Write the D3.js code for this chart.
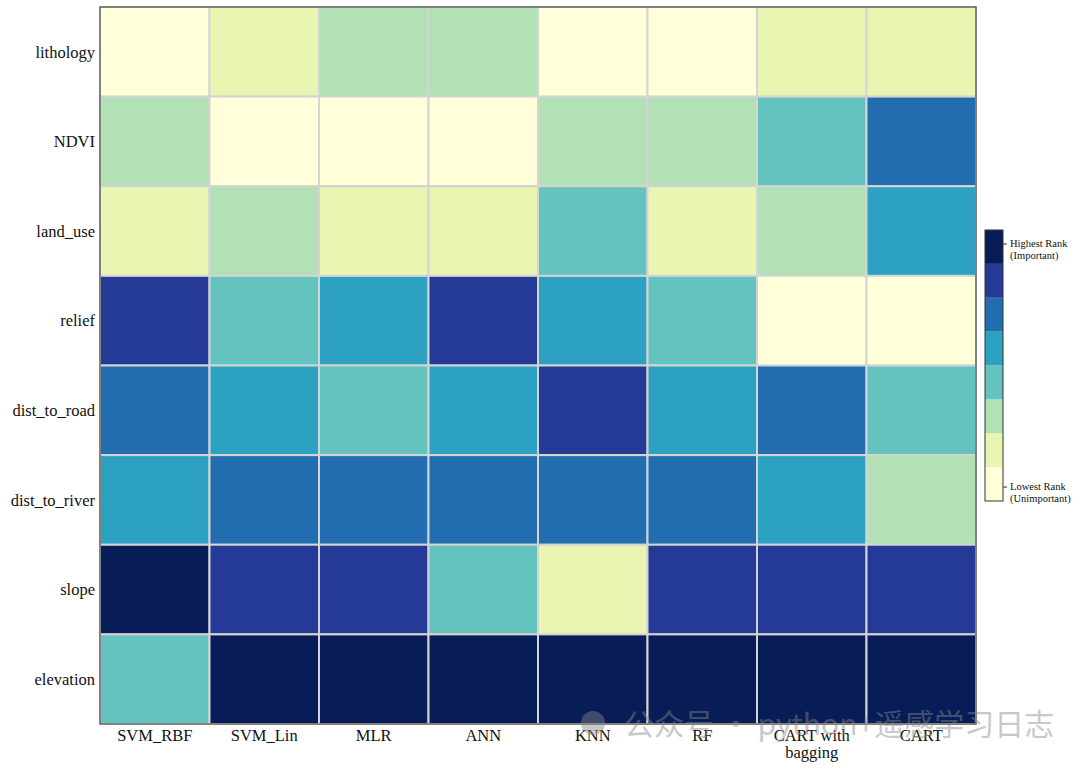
<!DOCTYPE html>
<html>
<head>
<meta charset="utf-8">
<script src="https://cdn.jsdelivr.net/npm/d3@7"></script>
<style>
    body { margin: 0; background: #fff; }
    svg { display: block; }
</style>
</head>
<body>
<div id="chart"></div>
<script>
// rows top to bottom, columns left to right
var features = ['lithology', 'NDVI', 'land_use', 'relief', 'dist_to_road', 'dist_to_river', 'slope', 'elevation'];
var models = ['SVM_RBF', 'SVM_Lin', 'MLR', 'ANN', 'KNN', 'RF', 'CART with bagging', 'CART'];

// rank per feature (8 = highest rank / important, 1 = lowest)
var lithology = [1, 2, 3, 3, 1, 1, 2, 2];
var ndvi = [3, 1, 1, 1, 3, 3, 4, 6];
var landUse = [2, 3, 2, 2, 4, 2, 3, 5];
var relief = [7, 4, 5, 7, 5, 4, 1, 1];
var distToRoad = [6, 5, 4, 5, 7, 5, 6, 4];
var distToRiver = [5, 6, 6, 6, 6, 6, 5, 3];
var slope = [8, 7, 7, 4, 2, 7, 7, 7];
var elevation = [4, 8, 8, 8, 8, 8, 8, 8];

var ranks = [1, 2, 3, 4, 5, 6, 7, 8];
var legendLabels = [['Highest Rank', '(Important)'], ['Lowest Rank', '(Unimportant)']];

var rows = [lithology, ndvi, landUse, relief, distToRoad, distToRiver, slope, elevation];

var width = 1080, height = 769;
var margin = { top: 7, right: 104, bottom: 45, left: 100 };

var svg = d3.select('#chart')
    .append('svg')
    .attr('width', width)
    .attr('height', height);

var graph = svg.append('g')
    .attr('transform', 'translate(' + margin.left + ',' + margin.top + ')');

var w = width - margin.left - margin.right;
var h = height - margin.top - margin.bottom;

var x = d3.scaleBand().domain(models).range([0, w]);
var y = d3.scaleBand().domain(features).range([0, h]);

// 8 colours sampled evenly from matplotlib-style YlGnBu
var ylgnbu = d3.schemeYlGnBu[9];
var sample = d3.scaleLinear()
    .domain(d3.range(9).map(function(i) { return 1 + i * 7 / 8; }))
    .range(ylgnbu)
    .interpolate(d3.interpolateRgb);
var color = d3.scaleOrdinal().domain(ranks).range(ranks.map(function(r) { return sample(r); }));

var cells = [];
rows.forEach(function(row, i) {
    row.forEach(function(v, j) {
        cells.push({ feature: features[i], model: models[j], value: v });
    });
});

graph.selectAll('rect.cell')
    .data(cells)
    .enter()
    .append('rect')
    .attr('class', 'cell')
    .attr('x', function(d) { return x(d.model); })
    .attr('y', function(d) { return y(d.feature); })
    .attr('width', x.bandwidth())
    .attr('height', y.bandwidth())
    .attr('fill', function(d) { return color(d.value); })
    .attr('stroke', '#d4d4d4')
    .attr('stroke-width', 2);

// frame
graph.append('rect')
    .attr('width', w)
    .attr('height', h)
    .attr('fill', 'none')
    .attr('stroke', '#4a4a4a')
    .attr('stroke-width', 1.2);

var font = '"Liberation Serif", "Times New Roman", serif';

// y labels
graph.selectAll('text.ylab')
    .data(features)
    .enter()
    .append('text')
    .attr('class', 'ylab')
    .attr('x', -5)
    .attr('y', function(d) { return y(d) + y.bandwidth() / 2; })
    .attr('dy', '0.35em')
    .attr('text-anchor', 'end')
    .style('font-family', font)
    .style('font-size', '16.5px')
    .attr('fill', '#111')
    .text(function(d) { return d; });

// x labels (wrap "CART with bagging")
var xl = graph.selectAll('text.xlab')
    .data(models)
    .enter()
    .append('text')
    .attr('class', 'xlab')
    .attr('text-anchor', 'middle')
    .style('font-family', font)
    .style('font-size', '16.5px')
    .attr('fill', '#111');

xl.each(function(d) {
    var lines = d === 'CART with bagging' ? ['CART with', 'bagging'] : [d];
    var t = d3.select(this);
    lines.forEach(function(l, k) {
        t.append('tspan')
            .attr('x', x(d) + x.bandwidth() / 2)
            .attr('y', h + 17 + k * 17)
            .text(l);
    });
});

// colour bar
var cbX = 985, cbW = 18, cbTop = 230, cbBottom = 501;
var cb = d3.scaleBand().domain(ranks.slice().reverse()).range([cbTop, cbBottom]);

svg.selectAll('rect.cb')
    .data(ranks)
    .enter()
    .append('rect')
    .attr('class', 'cb')
    .attr('x', cbX)
    .attr('y', function(d) { return cb(d); })
    .attr('width', cbW)
    .attr('height', cb.bandwidth())
    .attr('fill', function(d) { return color(d); });

svg.append('rect')
    .attr('x', cbX)
    .attr('y', cbTop)
    .attr('width', cbW)
    .attr('height', cbBottom - cbTop)
    .attr('fill', 'none')
    .attr('stroke', '#333')
    .attr('stroke-width', 1);

var legendTicks = [
    { y: cb(8) + cb.bandwidth() / 2 - 3, lines: legendLabels[0] },
    { y: cb(1) + cb.bandwidth() / 2 + 3, lines: legendLabels[1] }
];

legendTicks.forEach(function(t) {
    svg.append('line')
        .attr('x1', cbX + cbW)
        .attr('x2', cbX + cbW + 4)
        .attr('y1', t.y)
        .attr('y2', t.y)
        .attr('stroke', '#333');
    var txt = svg.append('text')
        .style('font-family', font)
        .style('font-size', '10.5px')
        .attr('fill', '#111');
    t.lines.forEach(function(l, k) {
        txt.append('tspan')
            .attr('x', cbX + cbW + 7)
            .attr('y', t.y + 3 + k * 12)
            .text(l);
    });
});

// watermark overlay
svg.append('circle')
    .attr('cx', 593)
    .attr('cy', 723)
    .attr('r', 12)
    .attr('fill', '#888')
    .attr('opacity', 0.45);
svg.append('text')
    .attr('x', 624)
    .attr('y', 735)
    .style('font-family', '"Noto Sans CJK SC", sans-serif')
    .style('font-size', '30px')
    .attr('fill', '#888')
    .attr('opacity', 0.45)
    .text('公众号 · python+遥感学习日志');
</script>
</body>
</html>
